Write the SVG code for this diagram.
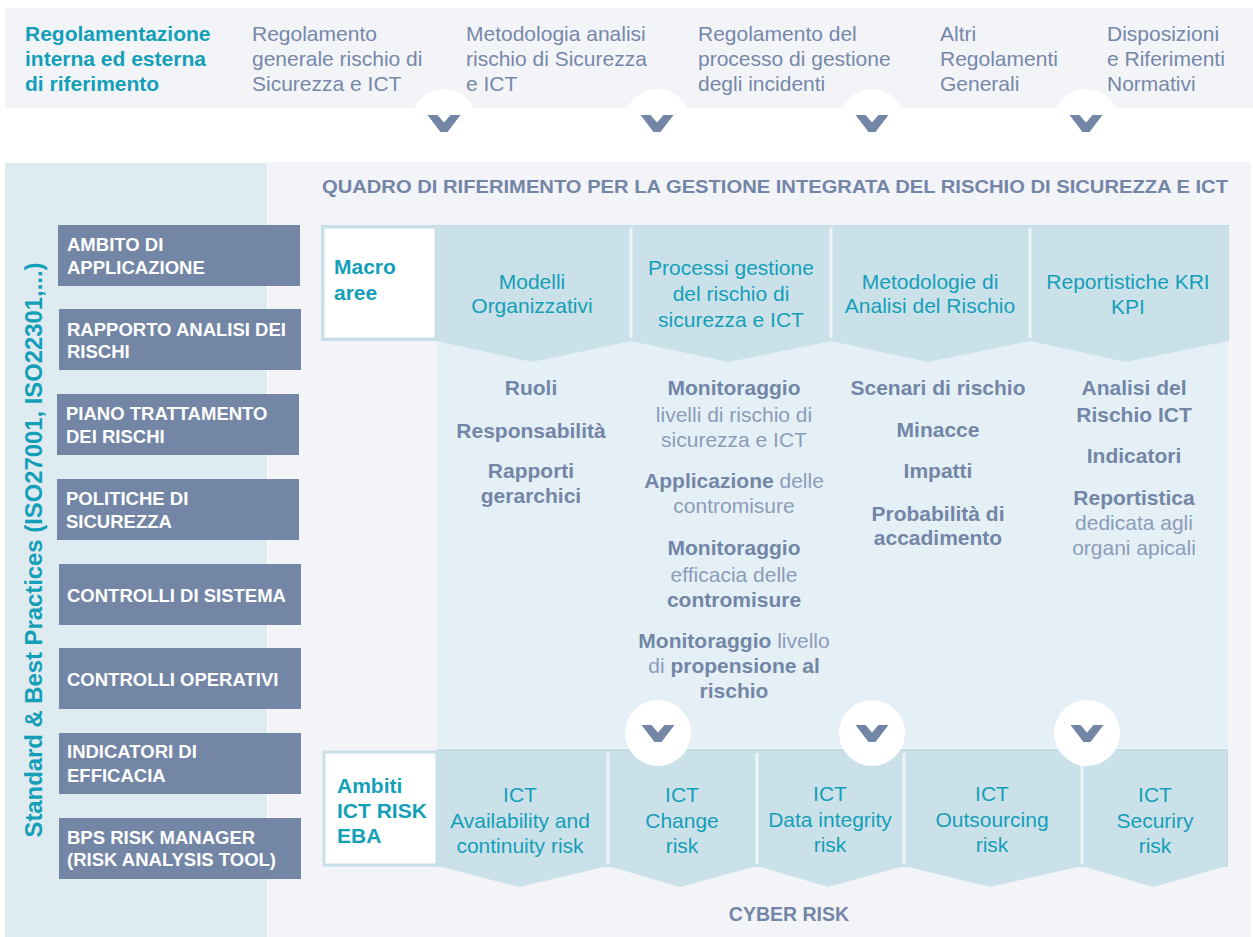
<svg xmlns="http://www.w3.org/2000/svg" width="1253" height="937" viewBox="0 0 1253 937">
<style>
text{font-family:"Liberation Sans",Arial,Helvetica,sans-serif}
.tb{fill:#149fb9;font-weight:bold;font-size:21px}
.tr{fill:#149fb9;font-size:21px}
.gr{fill:#7688a9;font-size:21px}
.sb{fill:#7386a7;font-weight:bold;font-size:21px}
.lt{fill:#8d9cb9;font-weight:normal}
.bx{fill:#7386a6}
.bt{fill:#ffffff;font-weight:bold;font-size:18.5px}
.mid{text-anchor:middle}
.hdr{fill:#cbe1e9}
.bot{fill:#cbe1e9}
.sep{stroke:#edf5f8;stroke-width:3}
.chev{fill:#7386a6}
.circ{fill:#ffffff}
</style>
<defs>
<polygon id="chv" points="-16.5,0 -6.5,0 0,7.5 6.5,0 16.5,0 3.5,17 -3.5,17"/>
</defs>
<rect width="1253" height="937" fill="#ffffff"/>

<!-- Top bar -->
<g id="top-bar">
<rect x="5" y="8" width="1248" height="100" fill="#f2f4f8"/>
</g>

<!-- Main panels -->
<g id="panels">
<rect x="5" y="163" width="262" height="774" fill="#deebf1"/>
<rect x="268" y="162" width="983" height="775" fill="#f2f4f8"/>
</g>

<g id="top-texts">
<text class="tb" x="25" y="41">Regolamentazione</text>
<text class="tb" x="25" y="66">interna ed esterna</text>
<text class="tb" x="25" y="91">di riferimento</text>
</g>
<g id="doc1"><text class="gr" x="252" y="41">Regolamento</text><text class="gr" x="252" y="66">generale rischio di</text><text class="gr" x="252" y="91">Sicurezza e ICT</text></g>
<g id="doc2"><text class="gr" x="466" y="41">Metodologia analisi</text><text class="gr" x="466" y="66">rischio di Sicurezza</text><text class="gr" x="466" y="91">e ICT</text></g>
<g id="doc3"><text class="gr" x="698" y="41">Regolamento del</text><text class="gr" x="698" y="66">processo di gestione</text><text class="gr" x="698" y="91">degli incidenti</text></g>
<g id="doc4"><text class="gr" x="940" y="41">Altri</text><text class="gr" x="940" y="66">Regolamenti</text><text class="gr" x="940" y="91">Generali</text></g>
<g id="doc5"><text class="gr" x="1107" y="41">Disposizioni</text><text class="gr" x="1107" y="66">e Riferimenti</text><text class="gr" x="1107" y="91">Normativi</text></g>

<!-- Vertical label -->
<g id="standard-label">
<text transform="translate(42,550) rotate(-90)" text-anchor="middle" fill="#149fb9" font-weight="bold" font-size="24" textLength="575" lengthAdjust="spacingAndGlyphs">Standard &amp; Best Practices (ISO27001, ISO22301,...)</text>
</g>

<!-- Left boxes -->
<g id="ambito"><rect class="bx" x="58" y="225" width="242" height="61"/><text class="bt" x="67" y="251">AMBITO DI</text><text class="bt" x="67" y="274">APPLICAZIONE</text></g>
<g id="rapporto"><rect class="bx" x="59" y="309" width="242" height="61"/><text class="bt" x="67" y="336">RAPPORTO ANALISI DEI</text><text class="bt" x="67" y="358">RISCHI</text></g>
<g id="piano"><rect class="bx" x="57" y="394" width="242" height="61"/><text class="bt" x="66" y="420">PIANO TRATTAMENTO</text><text class="bt" x="66" y="443">DEI RISCHI</text></g>
<g id="politiche"><rect class="bx" x="57" y="479" width="242" height="61"/><text class="bt" x="66" y="505">POLITICHE DI</text><text class="bt" x="66" y="528">SICUREZZA</text></g>
<g id="controlli-sistema"><rect class="bx" x="59" y="564" width="242" height="61"/><text class="bt" x="67" y="602">CONTROLLI DI SISTEMA</text></g>
<g id="controlli-operativi"><rect class="bx" x="59" y="648" width="242" height="61"/><text class="bt" x="67" y="686">CONTROLLI OPERATIVI</text></g>
<g id="indicatori"><rect class="bx" x="59" y="733" width="242" height="61"/><text class="bt" x="67" y="758">INDICATORI DI</text><text class="bt" x="67" y="782">EFFICACIA</text></g>
<g id="bps"><rect class="bx" x="59" y="818" width="242" height="61"/><text class="bt" x="67" y="844">BPS RISK MANAGER</text><text class="bt" x="67" y="866">(RISK ANALYSIS TOOL)</text></g>

<!-- Title -->
<g id="title">
<text x="322" y="193" fill="#7386a7" font-weight="bold" font-size="19" textLength="906" lengthAdjust="spacingAndGlyphs">QUADRO DI RIFERIMENTO PER LA GESTIONE INTEGRATA DEL RISCHIO DI SICUREZZA E ICT</text>
</g>

<!-- Body -->
<g id="body">
<rect x="437" y="341" width="791" height="407" fill="#e4f0f5"/>
</g>

<!-- Header row -->
<g id="macro-aree">
<rect x="322" y="226" width="906" height="114" fill="#cbe1e9" stroke="#c2dbe5" stroke-width="2"/>
<rect x="323" y="227" width="113" height="112" fill="#ffffff" stroke="#c7dfe8" stroke-width="3"/>
<text class="tb" x="334" y="274">Macro</text>
<text class="tb" x="334" y="300">aree</text>
</g>
<g id="modelli">
<polygon class="hdr" points="437,226 631,226 631,341 532,362 437,341"/>
<text class="tr mid" x="532" y="289">Modelli</text><text class="tr mid" x="532" y="313">Organizzativi</text>
</g>
<g id="processi">
<polygon class="hdr" points="631,226 831,226 831,341 729,362 631,341"/>
<text class="tr mid" x="731" y="275">Processi gestione</text><text class="tr mid" x="731" y="301">del rischio di</text><text class="tr mid" x="731" y="327">sicurezza e ICT</text>
</g>
<g id="metodologie">
<polygon class="hdr" points="831,226 1030,226 1030,341 928,362 831,341"/>
<text class="tr mid" x="930" y="289">Metodologie di</text><text class="tr mid" x="930" y="313">Analisi del Rischio</text>
</g>
<g id="reportistiche">
<polygon class="hdr" points="1030,226 1228,226 1228,341 1126,362 1030,341"/>
<text class="tr mid" x="1128" y="289">Reportistiche KRI</text><text class="tr mid" x="1128" y="314">KPI</text>
</g>
<g id="header-separators">
<line class="sep" x1="631" y1="228" x2="631" y2="338"/>
<line class="sep" x1="831" y1="228" x2="831" y2="338"/>
<line class="sep" x1="1030" y1="228" x2="1030" y2="338"/>
</g>

<!-- Body columns -->
<g id="col-modelli">
<text class="sb mid" x="531" y="395">Ruoli</text>
<text class="sb mid" x="531" y="438">Responsabilità</text>
<text class="sb mid" x="531" y="478">Rapporti</text>
<text class="sb mid" x="531" y="503">gerarchici</text>
</g>
<g id="col-processi">
<text class="sb mid" x="734" y="395">Monitoraggio</text>
<text class="sb mid lt" x="734" y="422">livelli di rischio di</text>
<text class="sb mid lt" x="734" y="447">sicurezza e ICT</text>
<text class="sb mid" x="734" y="488">Applicazione<tspan class="lt"> delle</tspan></text>
<text class="sb mid lt" x="734" y="513">contromisure</text>
<text class="sb mid" x="734" y="555">Monitoraggio</text>
<text class="sb mid lt" x="734" y="582">efficacia delle</text>
<text class="sb mid" x="734" y="607">contromisure</text>
<text class="sb mid" x="734" y="648">Monitoraggio<tspan class="lt"> livello</tspan></text>
<text class="sb mid" x="734" y="673"><tspan class="lt">di </tspan>propensione al</text>
<text class="sb mid" x="734" y="698">rischio</text>
</g>
<g id="col-metodologie">
<text class="sb mid" x="938" y="395">Scenari di rischio</text>
<text class="sb mid" x="938" y="437">Minacce</text>
<text class="sb mid" x="938" y="478">Impatti</text>
<text class="sb mid" x="938" y="521">Probabilità di</text>
<text class="sb mid" x="938" y="545">accadimento</text>
</g>
<g id="col-reportistiche">
<text class="sb mid" x="1134" y="395">Analisi del</text>
<text class="sb mid" x="1134" y="422">Rischio ICT</text>
<text class="sb mid" x="1134" y="463">Indicatori</text>
<text class="sb mid" x="1134" y="505">Reportistica</text>
<text class="sb mid lt" x="1134" y="530">dedicata agli</text>
<text class="sb mid lt" x="1134" y="555">organi apicali</text>
</g>

<!-- Bottom row -->
<g id="ambiti">
<rect x="438" y="750" width="789" height="116" fill="#cbe1e9" stroke="#c2dbe5" stroke-width="2"/>
<rect x="324" y="752" width="113" height="113" fill="#ffffff" stroke="#c7dfe8" stroke-width="3"/>
<text class="tb" x="337" y="793">Ambiti</text>
<text class="tb" x="337" y="818">ICT RISK</text>
<text class="tb" x="337" y="843">EBA</text>
</g>
<g id="availability">
<polygon class="bot" points="438,751 608,751 608,866 519,887 438,866"/>
<text class="tr mid" x="520" y="802">ICT</text><text class="tr mid" x="520" y="828">Availability and</text><text class="tr mid" x="520" y="853">continuity risk</text>
</g>
<g id="change">
<polygon class="bot" points="608,751 757,751 757,866 680,887 608,866"/>
<text class="tr mid" x="682" y="802">ICT</text><text class="tr mid" x="682" y="828">Change</text><text class="tr mid" x="682" y="853">risk</text>
</g>
<g id="data-integrity">
<polygon class="bot" points="757,751 904,751 904,866 828,887 757,866"/>
<text class="tr mid" x="830" y="801">ICT</text><text class="tr mid" x="830" y="827">Data integrity</text><text class="tr mid" x="830" y="852">risk</text>
</g>
<g id="outsourcing">
<polygon class="bot" points="904,751 1082,751 1082,866 990,887 904,866"/>
<text class="tr mid" x="992" y="801">ICT</text><text class="tr mid" x="992" y="827">Outsourcing</text><text class="tr mid" x="992" y="852">risk</text>
</g>
<g id="security">
<polygon class="bot" points="1082,751 1227,751 1227,866 1153,887 1082,866"/>
<text class="tr mid" x="1155" y="802">ICT</text><text class="tr mid" x="1155" y="828">Securiry</text><text class="tr mid" x="1155" y="853">risk</text>
</g>
<g id="bottom-separators">
<line class="sep" x1="608" y1="753" x2="608" y2="864"/>
<line class="sep" x1="757" y1="753" x2="757" y2="864"/>
<line class="sep" x1="904" y1="753" x2="904" y2="864"/>
<line class="sep" x1="1082" y1="753" x2="1082" y2="864"/>
</g>
<g id="cyber-risk">
<text x="789" y="921" class="mid" fill="#7386a7" font-weight="bold" font-size="19.5">CYBER RISK</text>
</g>

<!-- Connectors: chevron arrows -->
<g id="connectors">
<circle class="circ" cx="444" cy="122" r="33"/>
<circle class="circ" cx="657" cy="122" r="33"/>
<circle class="circ" cx="872" cy="122" r="33"/>
<circle class="circ" cx="1086" cy="122" r="33"/>
<use href="#chv" class="chev" x="444" y="115"/>
<use href="#chv" class="chev" x="657" y="115"/>
<use href="#chv" class="chev" x="872" y="115"/>
<use href="#chv" class="chev" x="1086" y="115"/>
<circle class="circ" cx="658" cy="733" r="33"/>
<circle class="circ" cx="872" cy="733" r="33"/>
<circle class="circ" cx="1087" cy="733" r="33"/>
<use href="#chv" class="chev" x="658" y="725"/>
<use href="#chv" class="chev" x="872" y="725"/>
<use href="#chv" class="chev" x="1087" y="725"/>
</g>
</svg>
